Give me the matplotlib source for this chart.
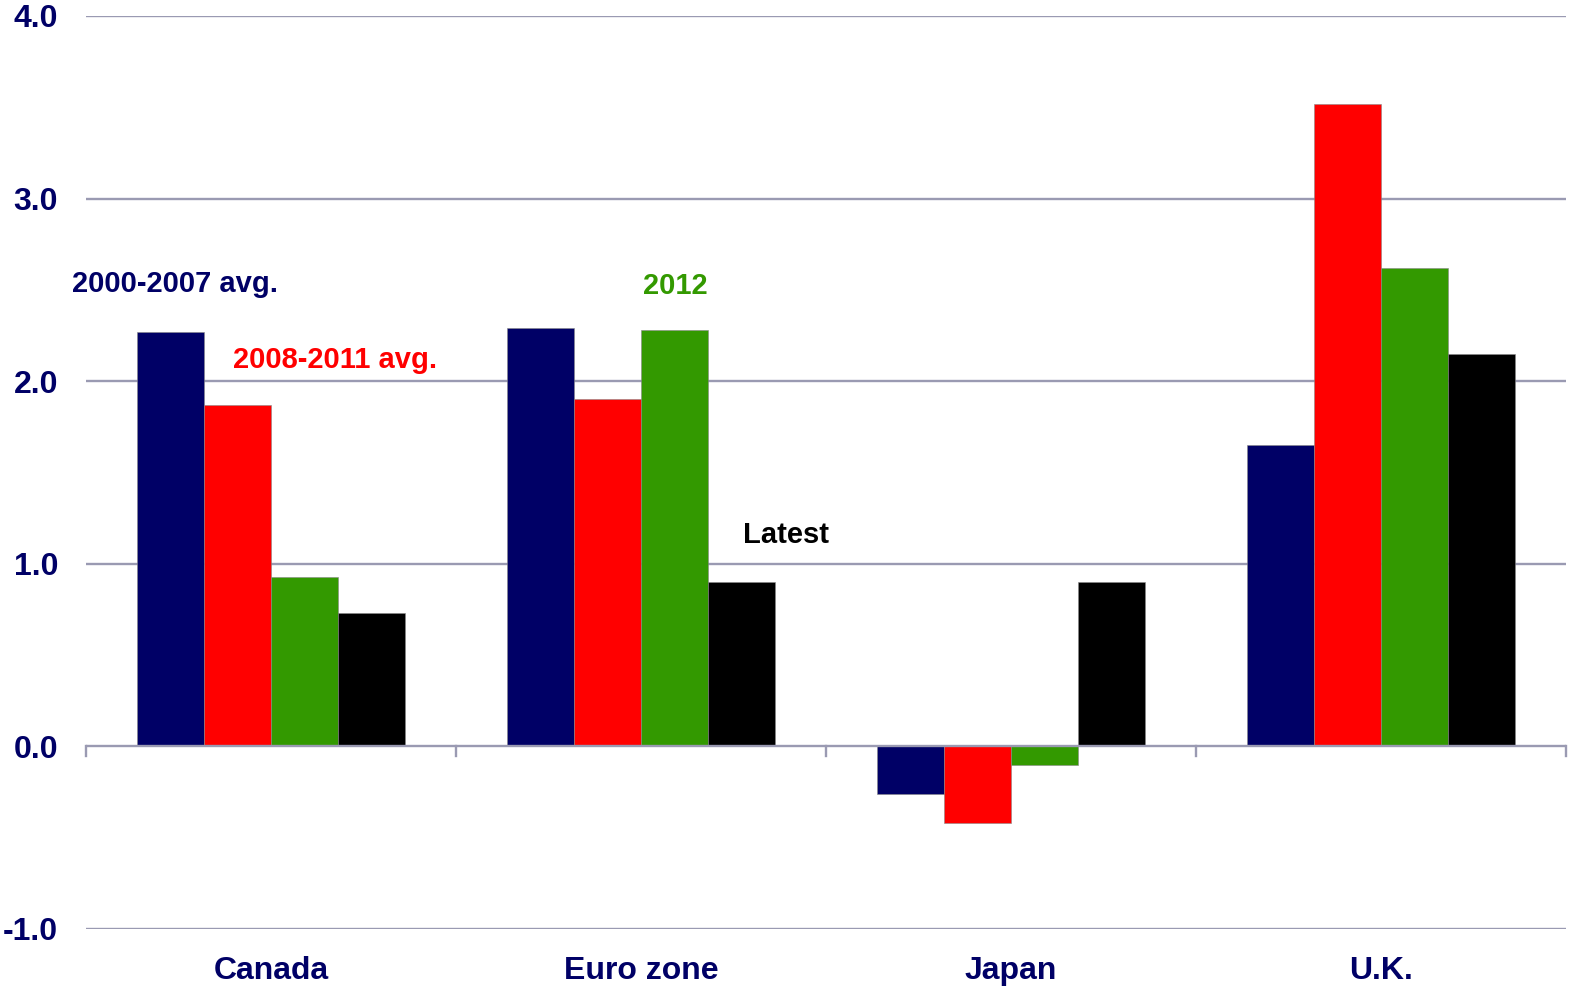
import matplotlib
matplotlib.use("Agg")
import matplotlib.pyplot as plt
import numpy as np

categories = ["Canada", "Euro zone", "Japan", "U.K."]
series_names = ["2000-2007 avg.", "2008-2011 avg.", "2012", "Latest"]
avg_2000_2007 = [2.27, 2.29, -0.26, 1.65]
avg_2008_2011 = [1.87, 1.90, -0.42, 3.52]
y2012 = [0.93, 2.28, -0.10, 2.62]
latest = [0.73, 0.90, 0.90, 2.15]
yticks = [-1.0, 0.0, 1.0, 2.0, 3.0, 4.0]

colors = ["#000066", "#ff0000", "#339900", "#000000"]
navy = "#000066"
gridc = "#9a9ab2"

plt.rcParams['font.family'] = ['Liberation Sans', 'DejaVu Sans']

fig = plt.figure(figsize=(15.7, 9.86), dpi=100)
ax = fig.add_axes([86/1570, 1-929/986, (1566-86)/1570, (929-16)/986])

x = np.arange(len(categories))
w = 0.181
data = [avg_2000_2007, avg_2008_2011, y2012, latest]
for i, (vals, c) in enumerate(zip(data, colors)):
    ax.bar(x + (i - 1.5) * w, vals, width=w, color=c, edgecolor="#888888",
           linewidth=0.4, zorder=3)

ax.set_xlim(-0.5, 3.5)
ax.set_ylim(-1.0, 4.0)
for yv in yticks:
    ax.axhline(yv, color=gridc, linewidth=1.7, zorder=2 if yv != 0 else 4)

for s in ax.spines.values():
    s.set_visible(False)

ax.set_yticks(yticks)
ax.set_yticklabels([f"{v:.1f}" for v in yticks], fontsize=23, fontweight='bold', color=navy)
ax.tick_params(axis='y', length=0, pad=20)
ax.set_xticks([])

# group separator ticks below zero line
for b in [-0.5, 0.5, 1.5, 2.5, 3.5]:
    ax.plot([b, b], [0, -0.055], color=gridc, linewidth=1.7, zorder=4, clip_on=False)

for xi, name in zip(x, categories):
    ax.text(xi, -1.276, name, ha='center', va='baseline', fontsize=23,
            fontweight='bold', color=navy)

# series labels
ax.text(-0.259, 2.53, series_names[0], ha='center', va='center', fontsize=21,
        fontweight='bold', color=colors[0])
ax.text(0.173, 2.115, series_names[1], ha='center', va='center', fontsize=21,
        fontweight='bold', color=colors[1])
ax.text(1.093, 2.52, series_names[2], ha='center', va='center', fontsize=21,
        fontweight='bold', color=colors[2])
ax.text(1.393, 1.16, series_names[3], ha='center', va='center', fontsize=21,
        fontweight='bold', color=colors[3])

fig.savefig("out.png", dpi=100)
